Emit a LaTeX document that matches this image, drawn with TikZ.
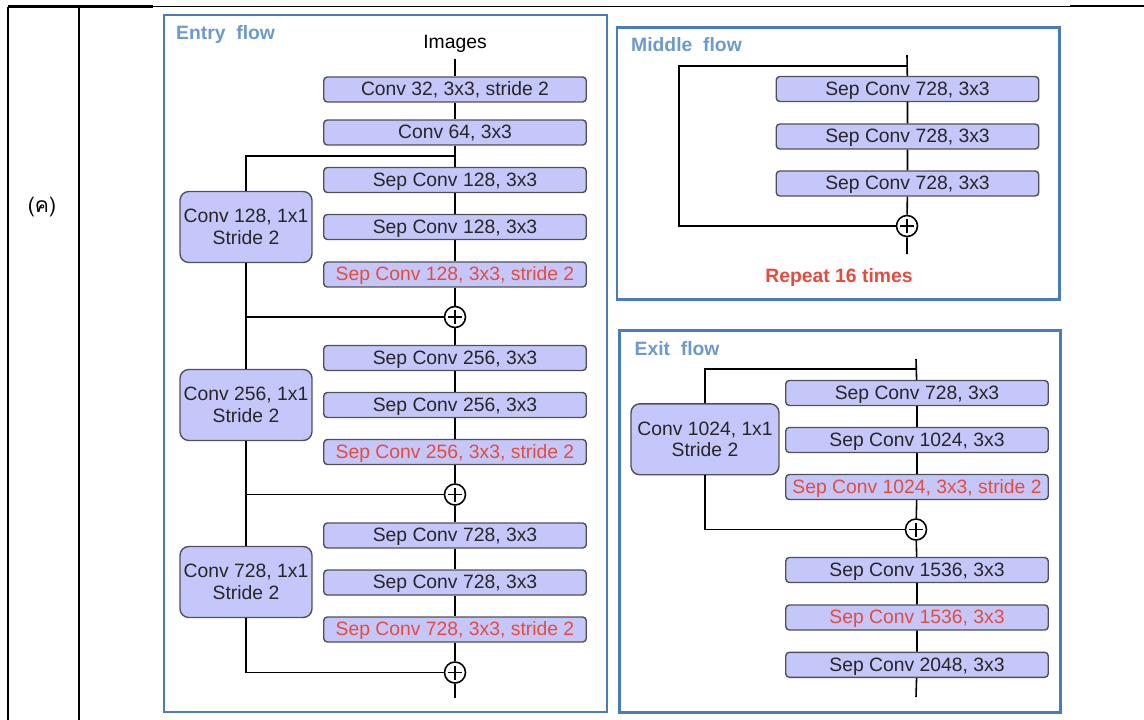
\documentclass[tikz,border=0pt]{standalone}
\usepackage{fontspec}
\setmainfont{Liberation Sans}
\newfontfamily\thaifont[Script=Thai]{Loma}
\definecolor{boxfill}{HTML}{C5C7FA}
\definecolor{boxline}{HTML}{505058}
\definecolor{redtext}{HTML}{E84A3C}
\definecolor{titleblue}{HTML}{6B9ACB}
\definecolor{frameblue}{HTML}{4A7CBA}

\begin{document}
\begin{tikzpicture}[x=0.02cm, y=-0.02cm, font=\fontsize{11}{12.3}\selectfont,
    layer/.style={draw=boxline, line width=0.8pt, fill=boxfill, rounded corners=2pt, text=black!85, minimum width=5.25cm, minimum height=0.5cm, inner sep=0pt, text height=0.72em, text depth=0pt},
    redlayer/.style={layer, text=redtext},
    shortcut/.style={draw=boxline, line width=0.8pt, fill=boxfill, rounded corners=5pt, text=black!85, align=center, minimum width=2.64cm, minimum height=1.42cm, inner sep=1pt},
    plus/.style={draw, circle, line width=0.9pt, fill=white, minimum size=0.42cm, inner sep=0pt,
        path picture={\draw[line width=0.8pt] ([xshift=-0.14cm]path picture bounding box.center) -- ([xshift=0.14cm]path picture bounding box.center)
            ([yshift=-0.14cm]path picture bounding box.center) -- ([yshift=0.14cm]path picture bounding box.center);}},
    link/.style={line width=0.9pt},
    frame/.style={draw=frameblue, line width=1.3pt},
    flowtitle/.style={anchor=west, text=titleblue, text height=0.72em, text depth=0pt, font=\fontsize{11}{12}\selectfont\bfseries}]
    \useasboundingbox (0,0) rectangle (1144,720);
    % table lines
    \draw[line width=1.3pt] (8,6.5) -- (8,720) (79,6.5) -- (79,720) (8,6.5) -- (153,6.5) (1070,5.8) -- (1144,5.8);
    \draw[line width=0.6pt] (153,6.5) -- (1070,6.5);
    \node (tag) at (42,207) {\thaifont\fontsize{12}{14}\selectfont (ค)};
    % frames
    \draw[frame] (164,15) rectangle (607,712);
    \draw[frame] (617,27.5) rectangle (1059.5,299.5);
    \draw[frame] (619.5,330.5) rectangle (1060.5,712.5);
    \node[flowtitle] (entry) at (170,33) {Entry\ \ flow};
    \node[flowtitle] (middle) at (625,45.5) {Middle\ \ flow};
    \node[flowtitle] (exit) at (628.5,349) {Exit\ \ flow};

    % entry flow
    \node (img) at (455,44) {Images};
    \node[layer] (e1) at (455,89.5) {Conv 32, 3x3, stride 2};
    \node[layer] (e2) at (455,132.5) {Conv 64, 3x3};
    \node[layer] (e3) at (455,180) {Sep Conv 128, 3x3};
    \node[layer] (e4) at (455,227) {Sep Conv 128, 3x3};
    \node[redlayer] (e5) at (455,274.5) {Sep Conv 128, 3x3, stride 2};
    \node[plus] (p1) at (455,317) {};
    \node[layer] (e6) at (455,358) {Sep Conv 256, 3x3};
    \node[layer] (e7) at (455,405) {Sep Conv 256, 3x3};
    \node[redlayer] (e8) at (455,452) {Sep Conv 256, 3x3, stride 2};
    \node[plus] (p2) at (455,494.5) {};
    \node[layer] (e9) at (455,535.5) {Sep Conv 728, 3x3};
    \node[layer] (e10) at (455,582.5) {Sep Conv 728, 3x3};
    \node[redlayer] (e11) at (455,629.5) {Sep Conv 728, 3x3, stride 2};
    \node[plus] (p3) at (455,672.5) {};
    \coordinate (eo) at (455,698);
    \coordinate (eb) at (455,156);
    \node[shortcut] (s1) at (246,227) {Conv 128, 1x1\\Stride 2};
    \node[shortcut] (s2) at (246,405) {Conv 256, 1x1\\Stride 2};
    \node[shortcut] (s3) at (246,582) {Conv 728, 1x1\\Stride 2};
    \draw[link] (img) -- (e1) -- (e2) -- (e3) -- (e4) -- (e5) -- (p1) -- (e6) -- (e7) -- (e8) -- (p2) -- (e9) -- (e10) -- (e11) -- (p3) -- (eo);
    \draw[link] (eb) -| (s1);
    \draw[link] (s1) |- (p1);
    \draw[link] (s2 |- p1) -- (s2);
    \draw[link] (s2) |- (p2);
    \draw[link] (s3 |- p2) -- (s3);
    \draw[link] (s3) |- (p3);

    % middle flow
    \coordinate (mi) at (907,55);
    \coordinate (mb) at (907,66);
    \coordinate (mc) at (679,146);
    \foreach \i/\y in {1/89, 2/136.5, 3/183.5} {
    \node[layer] (m\i) at (907.5,\y) {Sep Conv 728, 3x3};
    }
    \node[plus] (mp) at (907,226) {};
    \coordinate (mo) at (907,254);
    \draw[link] (mi) -- (m1) -- (m2) -- (m3) -- (mp) -- (mo);
    \draw[link] (mb) -| (mc) |- (mp);
    \node[text=redtext, text height=0.72em, text depth=0pt, font=\fontsize{11}{12}\selectfont\bfseries] (rep) at (839,276) {Repeat 16 times};

    % exit flow
    \coordinate (xi) at (916,359);
    \coordinate (xb) at (916,369);
    \node[layer] (x1) at (917,393) {Sep Conv 728, 3x3};
    \node[layer] (x2) at (917,440) {Sep Conv 1024, 3x3};
    \node[redlayer] (x3) at (917,487) {Sep Conv 1024, 3x3, stride 2};
    \node[plus] (xp) at (916,529.5) {};
    \node[layer] (x4) at (917,570) {Sep Conv 1536, 3x3};
    \node[redlayer] (x5) at (917,617.5) {Sep Conv 1536, 3x3};
    \node[layer] (x6) at (917,664.8) {Sep Conv 2048, 3x3};
    \coordinate (xo) at (916,697);
    \node[shortcut, minimum width=2.96cm] (xs) at (705,439.3) {Conv 1024, 1x1\\Stride 2};
    \draw[link] (xi) -- (x1) -- (x2) -- (x3) -- (xp) -- (x4) -- (x5) -- (x6) -- (xo);
    \draw[link] (xb) -| (xs);
    \draw[link] (xs) |- (xp);
\end{tikzpicture}
\end{document}
